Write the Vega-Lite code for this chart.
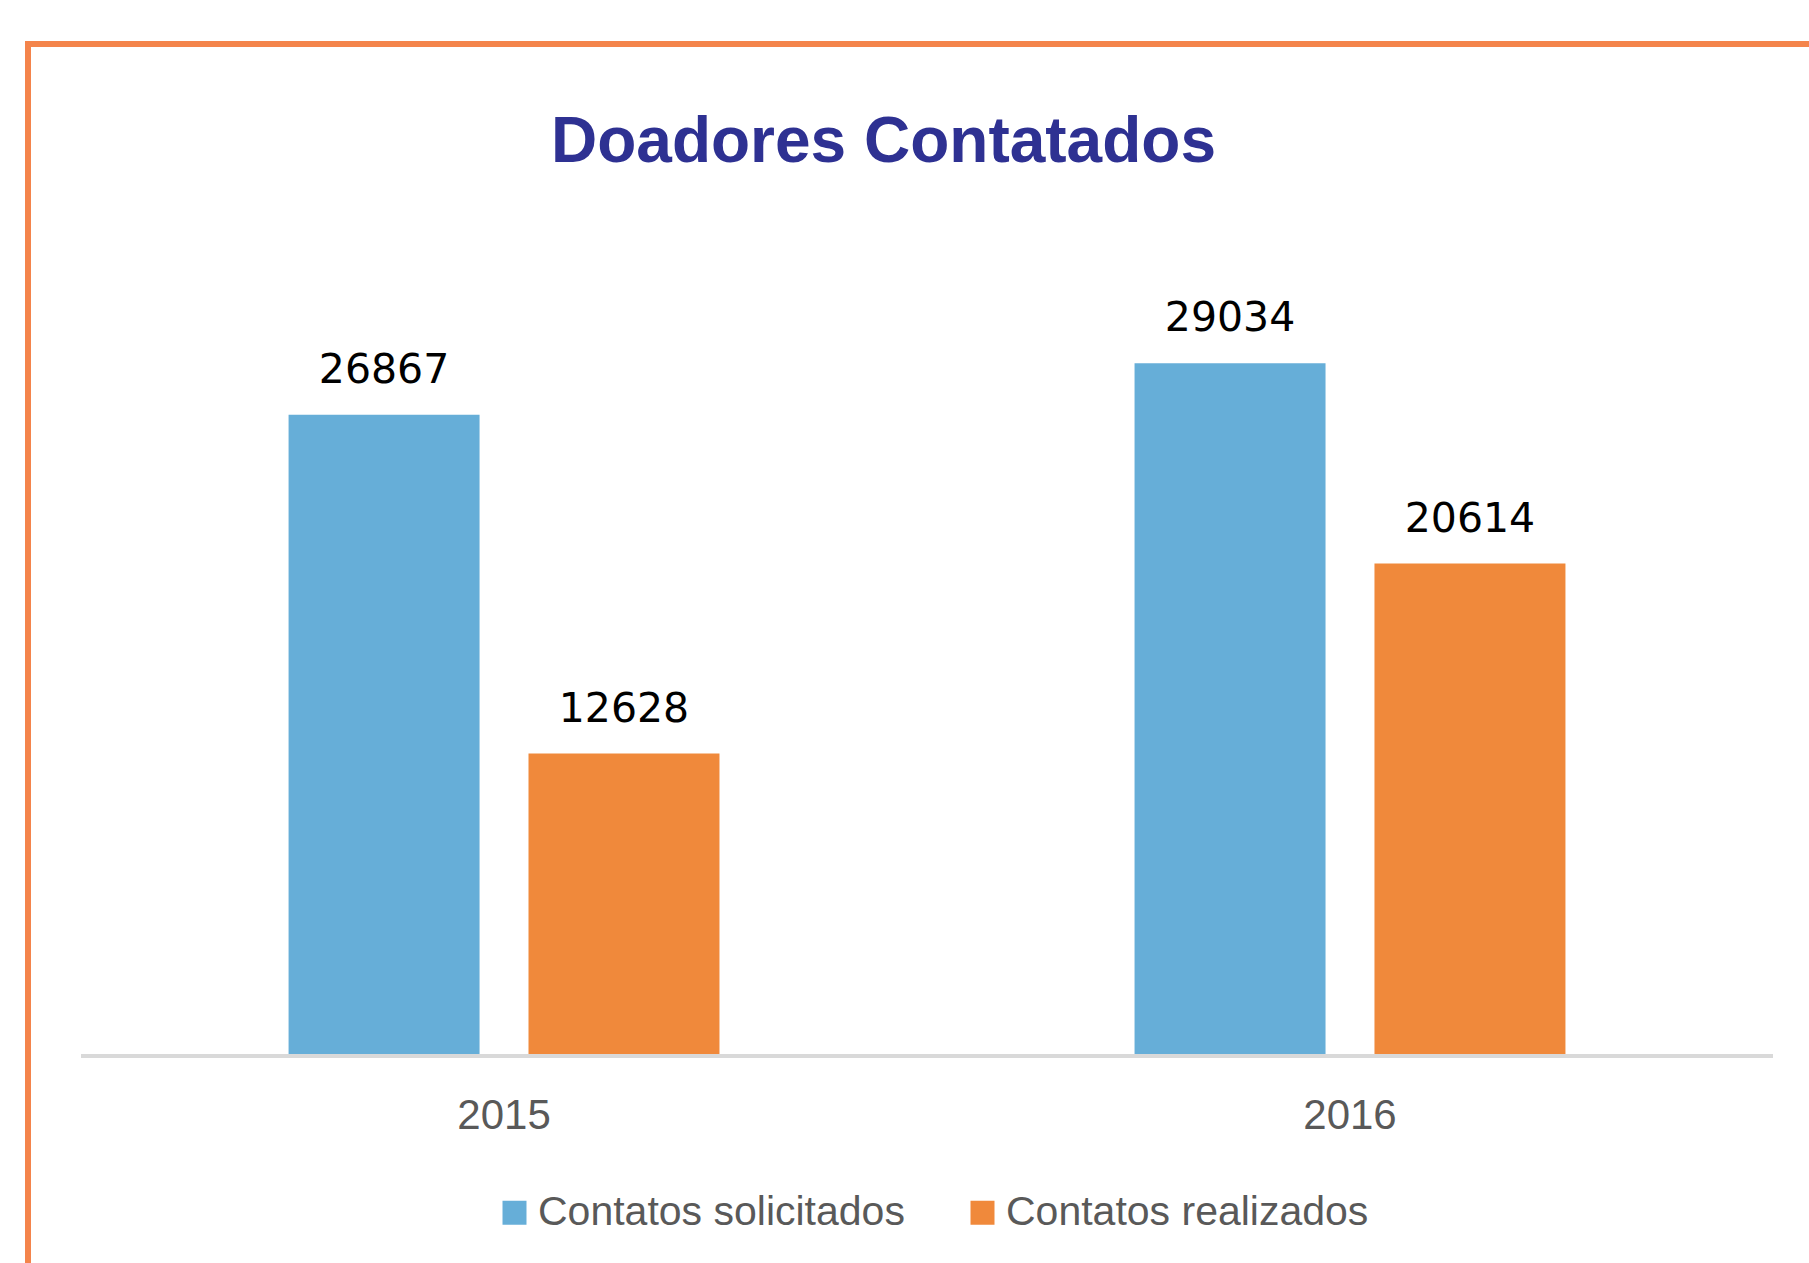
{
  "$schema": "https://vega.github.io/schema/vega-lite/v6.json",
  "width": 1785,
  "height": 1223,
  "autosize": {"type": "none"},
  "padding": {"left": 28, "top": 44, "right": -4, "bottom": -4},
  "background": "white",
  "config": {"view": {"stroke": "#F4844B", "strokeWidth": 6}},
  "title": {
    "text": "Doadores Contatados",
    "font": "Liberation Sans",
    "fontSize": 64,
    "fontWeight": "bold",
    "color": "#2E3192",
    "anchor": "middle",
    "dx": -37,
    "offset": -131
  },
  "data": {
    "values": [
      {"year": "2015", "serie": "Contatos solicitados", "value": 26867},
      {"year": "2015", "serie": "Contatos realizados", "value": 12628},
      {"year": "2016", "serie": "Contatos solicitados", "value": 29034},
      {"year": "2016", "serie": "Contatos realizados", "value": 20614}
    ]
  },
  "encoding": {
    "x": {
      "field": "year",
      "type": "nominal",
      "scale": {"paddingInner": 0, "paddingOuter": 0.055, "align": 0.57},
      "axis": {
        "orient": "bottom",
        "offset": -213,
        "domain": false,
        "ticks": false,
        "labelPadding": 41,
        "labelFontSize": 42,
        "labelFont": "Liberation Sans",
        "labelColor": "#595959",
        "labelAngle": 0,
        "title": null
      }
    }
  },
  "layer": [
    {
      "mark": {"type": "bar", "color": "#D9D9D9"},
      "encoding": {
        "y": {"datum": 0, "type": "quantitative", "scale": {"domain": [-8953, 42455], "nice": false, "zero": false}, "axis": null},
        "y2": {"datum": -168}
      }
    },
    {
      "mark": {"type": "bar"},
      "encoding": {
        "xOffset": {"field": "serie", "type": "nominal", "scale": {"domain": ["Contatos solicitados", "Contatos realizados"], "paddingInner": 0.204, "paddingOuter": 0.865}},
        "y": {"field": "value", "type": "quantitative", "axis": null},
        "color": {
          "field": "serie",
          "type": "nominal",
          "scale": {"domain": ["Contatos solicitados", "Contatos realizados"], "range": ["#66AED8", "#F0893B"]},
          "legend": {
            "orient": "none",
            "legendX": 466,
            "legendY": 1148,
            "direction": "horizontal",
            "title": null,
            "symbolType": "square",
            "symbolSize": 576,
            "symbolStrokeWidth": 0,
            "labelFontSize": 41,
            "labelFont": "Liberation Sans",
            "labelColor": "#595959",
            "labelOffset": 3,
            "columnPadding": 57,
            "labelLimit": 0
          }
        }
      }
    },
    {
      "mark": {"type": "text", "dy": -32, "baseline": "alphabetic", "font": "DejaVu Sans", "fontSize": 41, "color": "#000000"},
      "encoding": {
        "xOffset": {"field": "serie", "type": "nominal", "scale": {"domain": ["Contatos solicitados", "Contatos realizados"], "paddingInner": 0.204, "paddingOuter": 0.865}},
        "y": {"field": "value", "type": "quantitative"},
        "text": {"field": "value", "type": "quantitative", "format": "d"}
      }
    }
  ]
}
